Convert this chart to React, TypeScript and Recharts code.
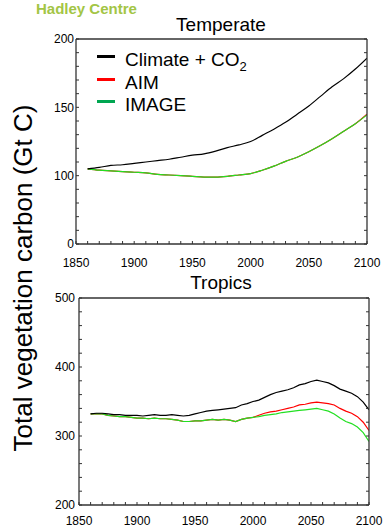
import { Legend, Line, LineChart, XAxis, YAxis } from "recharts"

const FONT = "'Liberation Sans', Arial, Helvetica, sans-serif"
const AXIS = "#333"

// Temperate panel, read every 10 years
const temperateYears = [
  1860, 1870, 1880, 1890, 1900, 1910, 1920, 1930, 1940, 1950, 1960, 1970, 1980,
  1990, 2000, 2010, 2020, 2030, 2040, 2050, 2060, 2070, 2080, 2090, 2100,
]
const temperateClimate = [
  105, 106, 107.5, 108, 109, 110, 111, 112, 113.5, 115, 116, 118, 120.5, 122.5,
  125, 129.5, 134, 139, 145, 151, 158, 165, 171, 178, 186,
]
const temperateAim = [
  105, 104, 103.5, 103, 102.5, 102, 101, 100.5, 100, 99.5, 99, 99, 99.5, 100.5,
  101.5, 104, 107, 110.5, 113.5, 117.5, 122, 127, 132.5, 138, 145,
]
const temperateImage = [
  105, 104, 103.5, 103, 102.5, 102, 101, 100.5, 100, 99.5, 99, 99, 99.5, 100.5,
  101.5, 104, 107, 110.5, 113.5, 117.5, 122, 127, 132.5, 138, 144.5,
]

// Tropics panel, read every 5 years
const tropicsYears = [
  1860, 1865, 1870, 1875, 1880, 1885, 1890, 1895, 1900, 1905, 1910, 1915, 1920,
  1925, 1930, 1935, 1940, 1945, 1950, 1955, 1960, 1965, 1970, 1975, 1980, 1985,
  1990, 1995, 2000, 2005, 2010, 2015, 2020, 2025, 2030, 2035, 2040, 2045, 2050,
  2055, 2060, 2065, 2070, 2075, 2080, 2085, 2090, 2095, 2100,
]
const tropicsClimate = [
  332, 333, 333, 332, 331, 331, 330, 330, 330, 329, 330, 331, 330, 330, 331,
  330, 329, 330, 332, 334, 336, 337, 338, 339, 340, 341, 345, 347, 350, 352,
  356, 360, 363, 365, 367, 370, 374, 376, 379, 381, 379, 377, 373, 368, 365,
  362, 357, 349, 338,
]
const tropicsAim = [
  332, 332, 332, 330, 329, 328, 328, 327, 326, 326, 325, 326, 325, 325, 324,
  323, 321, 321, 322, 322, 323, 324, 323, 324, 323, 321, 324, 326, 327, 330,
  333, 335, 336, 338, 340, 342, 345, 346, 348, 349, 348, 347, 345, 340, 336,
  333, 328, 320, 308,
]
const tropicsImage = [
  332, 332, 332, 330, 329, 328, 328, 327, 326, 326, 325, 326, 325, 325, 324,
  323, 321, 321, 322, 322, 323, 324, 323, 324, 323, 321, 324, 326, 327, 328,
  330, 331, 332, 334, 335, 336, 337, 338, 339, 340, 338, 336, 332, 326, 321,
  318, 313, 305, 292,
]

const xLabelYears = [1850, 1900, 1950, 2000, 2050, 2100]
const temperateYLabels = [50, 100, 150, 200]
const tropicsYLabels = [200, 300, 400, 500]

const seriesKeys = ["aim", "image", "climate"]
const seriesColors = ["#ff0000", "#22e022", "#000000"]
const legendLabels = ["Climate + CO", "AIM", "IMAGE"]
const legendSubs = ["2", "", ""]
const legendColors = ["#000000", "#ff0000", "#00a651"]

function steps(from: number, to: number, step: number) {
  const out: number[] = []
  for (let v = from; v <= to; v += step) out.push(v)
  return out
}

function buildRows(years: number[], climate: number[], aim: number[], image: number[]) {
  return years.map((year, i) => ({ year, climate: climate[i], aim: aim[i], image: image[i] }))
}

const temperateData = buildRows(temperateYears, temperateClimate, temperateAim, temperateImage)
const tropicsData = buildRows(tropicsYears, tropicsClimate, tropicsAim, tropicsImage)

function TemperateLegend() {
  return (
    <div style={{ fontFamily: FONT, fontSize: 19, color: "#000", lineHeight: "22.5px" }}>
      {legendLabels.map((label, i) => (
        <div key={label} style={{ position: "relative", height: 22.5, paddingLeft: 28, whiteSpace: "nowrap" }}>
          <span
            style={{
              position: "absolute",
              left: 0,
              top: 6,
              width: 18,
              height: 3,
              background: legendColors[i],
            }}
          />
          {label}
          {legendSubs[i] && (
            <span style={{ fontSize: 13, position: "relative", top: 5, lineHeight: 0 }}>{legendSubs[i]}</span>
          )}
        </div>
      ))}
    </div>
  )
}

type PanelProps = {
  data: { year: number; climate: number; aim: number; image: number }[]
  height: number
  margin: { top: number; right: number; bottom: number; left: number }
  yDomain: [number, number]
  yStep: number
  yLabels: number[]
  yFormat: (v: number) => string
  xTickMargin: number
  yTickMargin: number
  curve: "monotone" | "linear"
  legend?: boolean
}

function Panel({
  data,
  height,
  margin,
  yDomain,
  yStep,
  yLabels,
  yFormat,
  xTickMargin,
  yTickMargin,
  curve,
  legend,
}: PanelProps) {
  const xMinor = steps(1850, 2100, 10)
  const yMinor = steps(yDomain[0], yDomain[1], yStep)
  const tickFont = { fill: "#000", fontSize: 12, fontFamily: FONT }
  const axisLine = { stroke: AXIS, strokeWidth: 1.3 }
  const tickLine = { stroke: AXIS, strokeWidth: 1 }

  return (
    <LineChart width={389} height={height} data={data} margin={margin}>
      <XAxis
        xAxisId="b"
        dataKey="year"
        type="number"
        domain={[1850, 2100]}
        allowDataOverflow
        ticks={xMinor}
        interval={0}
        tickFormatter={(v: number) => (xLabelYears.includes(v) ? String(v) : "")}
        tickSize={-3}
        tickMargin={xTickMargin}
        height={24}
        axisLine={axisLine}
        tickLine={tickLine}
        tick={tickFont}
      />
      <XAxis
        xAxisId="t"
        orientation="top"
        type="number"
        domain={[1850, 2100]}
        allowDataOverflow
        ticks={xMinor}
        interval={0}
        tickFormatter={() => ""}
        tickSize={-3}
        height={1}
        axisLine={axisLine}
        tickLine={tickLine}
      />
      <YAxis
        yAxisId="l"
        type="number"
        domain={yDomain}
        allowDataOverflow
        ticks={yMinor}
        interval={0}
        tickFormatter={(v: number) => (yLabels.includes(v) ? yFormat(v) : "")}
        tickSize={-3}
        tickMargin={yTickMargin}
        width={40}
        axisLine={axisLine}
        tickLine={tickLine}
        tick={tickFont}
      />
      <YAxis
        yAxisId="r"
        orientation="right"
        type="number"
        domain={yDomain}
        allowDataOverflow
        ticks={yMinor}
        interval={0}
        tickFormatter={() => ""}
        tickSize={-3}
        width={1}
        axisLine={axisLine}
        tickLine={tickLine}
      />
      {seriesKeys.map((key, i) => (
        <Line
          key={key}
          xAxisId="b"
          yAxisId="l"
          type={curve}
          dataKey={key}
          stroke={seriesColors[i]}
          strokeWidth={1.2}
          dot={false}
          isAnimationActive={false}
        />
      ))}
      {legend && (
        <Legend
          layout="horizontal"
          verticalAlign="middle"
          align="center"
          wrapperStyle={{ left: 97, top: 49, width: 250, height: 70 }}
          content={() => <TemperateLegend />}
        />
      )}
    </LineChart>
  )
}

export default function App() {
  return (
    <div
      style={{
        position: "absolute",
        left: 0,
        top: 0,
        width: 389,
        height: 529,
        background: "#fff",
        fontFamily: FONT,
        overflow: "hidden",
      }}
    >
      <div style={{ position: "absolute", left: 0, top: 0 }}>
        <Panel
          data={temperateData}
          height={270}
          margin={{ top: 38, right: 21, bottom: 2, left: 36 }}
          yDomain={[50, 200]}
          yStep={10}
          yLabels={temperateYLabels}
          yFormat={(v) => (v === 50 ? "0" : String(v))}
          xTickMargin={17}
          yTickMargin={5}
          curve="monotone"
          legend
        />
      </div>
      <div style={{ position: "absolute", left: 0, top: 270 }}>
        <Panel
          data={tropicsData}
          height={259}
          margin={{ top: 27, right: 19, bottom: 0, left: 39 }}
          yDomain={[200, 500]}
          yStep={20}
          yLabels={tropicsYLabels}
          yFormat={(v) => String(v)}
          xTickMargin={14}
          yTickMargin={7}
          curve="linear"
        />
      </div>
      <svg
        width={389}
        height={529}
        style={{ position: "absolute", left: 0, top: 0, pointerEvents: "none" }}
        fontFamily={FONT}
      >
        <text x={36} y={14} fontSize={15} fontWeight="bold" fill="#a3c545">
          Hadley Centre
        </text>
        <text x={221} y={31} fontSize={19} textAnchor="middle" fill="#000">
          Temperate
        </text>
        <text x={221} y={289} fontSize={19} textAnchor="middle" fill="#000">
          Tropics
        </text>
        <text transform="translate(32,278) rotate(-90)" fontSize={26} textAnchor="middle" fill="#000">
          Total vegetation carbon (Gt C)
        </text>
      </svg>
    </div>
  )
}
